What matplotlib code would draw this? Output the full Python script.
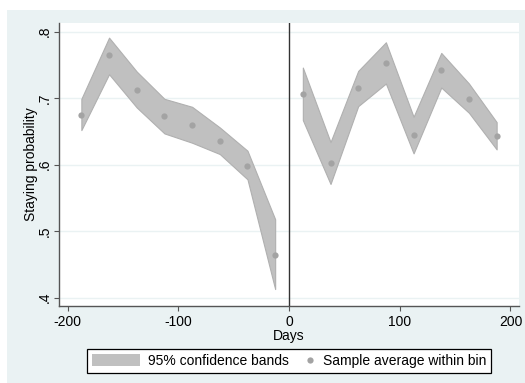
"""
Probabilita di permanenza attorno alla soglia (grafico in stile Stata).
Bande di confidenza al 95% e media campionaria per bin di 25 giorni.
"""

import matplotlib
matplotlib.use("Agg")
import matplotlib.pyplot as plt
from matplotlib.patches import Rectangle, Patch
from matplotlib.lines import Line2D
from matplotlib.legend_handler import HandlerBase
from matplotlib.ticker import FuncFormatter

plt.rcParams['font.family'] = ['Liberation Sans', 'DejaVu Sans']
plt.rcParams['axes.unicode_minus'] = False

# Dati: centri dei bin (giorni)
days_left = [-187.5, -162.5, -137.5, -112.5, -87.5, -62.5, -37.5, -12.5]
days_right = [12.5, 37.5, 62.5, 87.5, 112.5, 137.5, 162.5, 187.5]

# Media campionaria nel bin
mean_left = [0.675, 0.765, 0.712, 0.673, 0.660, 0.636, 0.598, 0.464]
mean_right = [0.707, 0.602, 0.715, 0.753, 0.644, 0.742, 0.699, 0.643]

# Bande di confidenza al 95%
upper_left = [0.699, 0.791, 0.740, 0.699, 0.687, 0.656, 0.621, 0.518]
lower_left = [0.652, 0.736, 0.686, 0.647, 0.633, 0.616, 0.578, 0.413]
upper_right = [0.746, 0.634, 0.741, 0.784, 0.672, 0.768, 0.722, 0.664]
lower_right = [0.667, 0.571, 0.688, 0.722, 0.617, 0.716, 0.678, 0.623]

y_ticks = [0.4, 0.5, 0.6, 0.7, 0.8]
x_ticks = [-200, -100, 0, 100, 200]

BG = '#eaf2f3'
BAND = '#c0c0c0'
BAND_EDGE = '#b0b0b0'
DOT = '#a3a3a3'
AXIS = '#555555'


class RightDot(HandlerBase):
    """Disegna il marcatore sul lato destro dello spazio della legenda."""
    def create_artists(self, legend, orig_handle, xdescent, ydescent,
                       width, height, fontsize, trans):
        dot = Line2D([width - 4 - xdescent], [height / 2 - ydescent],
                     marker='o', ms=4.5, ls='none', color=DOT,
                     markeredgewidth=0, transform=trans)
        return [dot]


fig = plt.figure(figsize=(5.25, 3.83), dpi=100)
fig.patch.set_facecolor('white')
# sfondo esterno azzurrino
fig.add_artist(Rectangle((7 / 525, 0), 1 - 7 / 525, 1 - 10 / 383,
                         transform=fig.transFigure, facecolor=BG,
                         edgecolor='none', zorder=-10))

ax = fig.add_axes([59 / 525, 1 - 305.7 / 383, 460 / 525, 282.7 / 383])
ax.set_facecolor('white')

for xs, lo, hi, mu in [(days_left, lower_left, upper_left, mean_left),
                       (days_right, lower_right, upper_right, mean_right)]:
    ax.fill_between(xs, lo, hi, facecolor=BAND, edgecolor=BAND_EDGE,
                    linewidth=0.8, zorder=2)
    ax.plot(xs, mu, 'o', ms=4.5, color=DOT, markeredgewidth=0, zorder=3)

ax.axvline(0, color='#333333', lw=1.0, zorder=4)

ax.set_xlim(-207.7, 207.7)
ax.set_ylim(0.388, 0.813)
ax.set_xticks(x_ticks)
ax.set_yticks(y_ticks)
ax.yaxis.set_major_formatter(FuncFormatter(lambda v, p: f"{v:.1f}".lstrip('0')))
ax.grid(axis='y', color=BG, lw=1.0, zorder=1)
ax.grid(axis='x', visible=False)

for s in ['top', 'right']:
    ax.spines[s].set_visible(False)
for s in ['left', 'bottom']:
    ax.spines[s].set_color(AXIS)
    ax.spines[s].set_linewidth(1.0)

ax.tick_params(axis='both', direction='out', length=3.8, width=0.8,
               color=AXIS, labelsize=10, labelcolor='black')
ax.tick_params(axis='y', pad=1.5)
ax.tick_params(axis='x', pad=3.0)
for lab in ax.get_yticklabels():
    lab.set_rotation(90)
    lab.set_va('center')

ax.set_ylabel("Staying probability", fontsize=10, labelpad=0)
ax.set_xlabel("Days", fontsize=10, labelpad=0)

band_handle = Patch(facecolor=BAND, edgecolor='none')
dot_handle = Line2D([], [], marker='o', ls='none', color=DOT)
leg = ax.legend([band_handle, dot_handle],
                ["95% confidence bands", "Sample average within bin"],
                handler_map={Line2D: RightDot()},
                loc='upper center', bbox_to_anchor=(0.5, -0.153), ncol=2,
                fontsize=10, frameon=True, fancybox=False, framealpha=1,
                edgecolor='black', borderpad=0.35, handlelength=3.5,
                handleheight=0.95, handletextpad=0.55, columnspacing=-1.6,
                borderaxespad=0)
leg.get_frame().set_linewidth(0.9)

fig.savefig("out.png", dpi=100, facecolor=fig.get_facecolor())
